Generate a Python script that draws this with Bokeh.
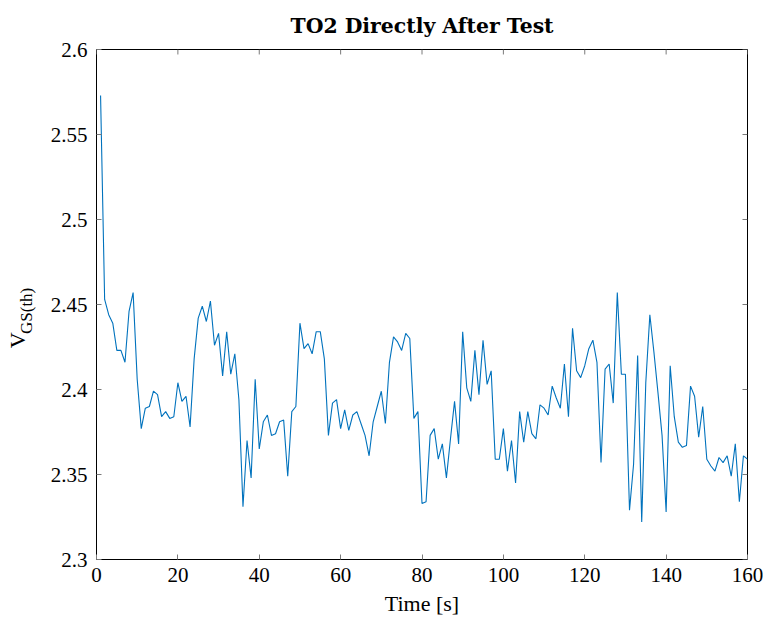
from bokeh.plotting import figure
from bokeh.models import FixedTicker, CustomJSTickFormatter, Range1d, LinearAxis
from bokeh.embed import file_html
from bokeh.resources import INLINE

# ---- data ----
time_s = list(range(1, 161))
vgs_th = [
    2.573, 2.453, 2.444, 2.439, 2.423, 2.423, 2.416, 2.446, 2.457, 2.406,
    2.377, 2.389, 2.390, 2.399, 2.397, 2.384, 2.387, 2.383, 2.384, 2.404,
    2.393, 2.396, 2.378, 2.418, 2.442, 2.449, 2.440, 2.452, 2.426, 2.433,
    2.408, 2.434, 2.409, 2.421, 2.394, 2.331, 2.370, 2.348, 2.406, 2.365,
    2.381, 2.385, 2.373, 2.374, 2.381, 2.382, 2.349, 2.387, 2.390, 2.439,
    2.424, 2.427, 2.421, 2.434, 2.434, 2.418, 2.373, 2.392, 2.394, 2.377,
    2.388, 2.376, 2.385, 2.387, 2.380, 2.373, 2.361, 2.381, 2.390, 2.399,
    2.380, 2.416, 2.431, 2.428, 2.423, 2.433, 2.430, 2.383, 2.387, 2.333,
    2.334, 2.373, 2.377, 2.359, 2.368, 2.348, 2.371, 2.393, 2.368, 2.434,
    2.401, 2.393, 2.423, 2.397, 2.429, 2.403, 2.411, 2.359, 2.359, 2.377,
    2.352, 2.370, 2.345, 2.387, 2.369, 2.387, 2.374, 2.371, 2.391, 2.389,
    2.385, 2.402, 2.395, 2.389, 2.415, 2.384, 2.436, 2.411, 2.407, 2.414,
    2.424, 2.429, 2.416, 2.357, 2.412, 2.415, 2.392, 2.457, 2.409, 2.409,
    2.329, 2.356, 2.420, 2.322, 2.404, 2.444, 2.422, 2.398, 2.373, 2.328,
    2.414, 2.384, 2.369, 2.366, 2.367, 2.402, 2.396, 2.372, 2.390, 2.359,
    2.355, 2.352, 2.360, 2.357, 2.361, 2.349, 2.368, 2.334, 2.361, 2.359,
]
x_ticks = [0, 20, 40, 60, 80, 100, 120, 140, 160]
y_ticks = [2.3, 2.35, 2.4, 2.45, 2.5, 2.55, 2.6]
title_text = "TO2 Directly After Test"
x_label = "Time [s]"
y_label_main = "V"
y_label_sub = "GS(th)"

FONT = "Liberation Serif"
X0, X1 = 0, 160
Y0, Y1 = 2.3, 2.6

W, H = 763, 618
ML, MR, MT, MB = 96, 16, 49, 57
FW = W - ML - MR
FH = H - MT - MB
TICK_PX = 5
TICK_COLOR = "#7a7a7a"
NBSP = "\u00a0"

p = figure(width=W, height=H, output_backend="svg", toolbar_location=None,
           x_range=Range1d(X0, X1), y_range=Range1d(Y0, Y1),
           min_border_left=ML, min_border_right=MR,
           min_border_top=MT, min_border_bottom=MB,
           title=title_text)
p.background_fill_color = "white"
p.border_fill_color = "white"
p.grid.visible = False
p.outline_line_color = "black"
p.outline_line_width = 1

p.title.text_font = "DejaVu Serif"
p.title.text_font_style = "bold"
p.title.text_font_size = "20.4px"
p.title.align = "center"
p.title.vertical_align = "top"
p.title.text_color = "black"
p.title.standoff = 20

fmt = CustomJSTickFormatter(code="return String(Number(tick.toFixed(2)));")

for ax, ticks in ((p.xaxis[0], x_ticks), (p.yaxis[0], y_ticks)):
    ax.ticker = FixedTicker(ticks=ticks)
    ax.formatter = fmt
    ax.axis_line_color = None
    ax.major_tick_in = TICK_PX
    ax.major_tick_out = 0
    ax.minor_tick_line_color = None
    ax.major_tick_line_color = TICK_COLOR
    ax.major_tick_line_width = 1
    ax.major_label_text_font = FONT
    ax.major_label_text_font_size = "21px"
    ax.major_label_text_color = "black"

p.xaxis[0].major_label_standoff = 8
p.yaxis[0].major_label_standoff = 9

p.xaxis[0].axis_label = x_label
p.xaxis[0].axis_label_text_font = FONT
p.xaxis[0].axis_label_text_font_size = "22px"
p.xaxis[0].axis_label_text_font_style = "normal"
p.xaxis[0].axis_label_text_color = "black"
p.xaxis[0].axis_label_standoff = 6

# y label V_GS(th): subscript on the main y axis, "V" on an outer tick-less axis
p.yaxis[0].axis_label = y_label_sub + NBSP * 3
p.yaxis[0].axis_label_text_font = FONT
p.yaxis[0].axis_label_text_font_size = "17px"
p.yaxis[0].axis_label_text_font_style = "normal"
p.yaxis[0].axis_label_text_color = "black"
p.yaxis[0].axis_label_standoff = 12
p.yaxis[0].axis_label_orientation = "vertical"

v_axis = LinearAxis(ticker=FixedTicker(ticks=[]), axis_line_color=None,
                    major_tick_line_color=None, minor_tick_line_color=None,
                    major_label_standoff=0, major_tick_in=0, major_tick_out=0,
                    axis_label=y_label_main + NBSP * 13,
                    axis_label_text_font=FONT, axis_label_text_font_size="22px",
                    axis_label_text_font_style="normal", axis_label_text_color="black",
                    axis_label_standoff=-16)
v_axis.axis_label_orientation = "vertical"
p.add_layout(v_axis, "left")

# inward ticks on the top and right edges of the box
dy = TICK_PX / FH * (Y1 - Y0)
dx = TICK_PX / FW * (X1 - X0)
p.segment(x0=x_ticks, y0=[Y1] * len(x_ticks), x1=x_ticks, y1=[Y1 - dy] * len(x_ticks),
          line_color=TICK_COLOR, line_width=1)
p.segment(x0=[X1] * len(y_ticks), y0=y_ticks, x1=[X1 - dx] * len(y_ticks), y1=y_ticks,
          line_color=TICK_COLOR, line_width=1)

p.line(time_s, vgs_th, line_color="#0072bd", line_width=1.1)

open("out.html", "w").write(file_html(p, INLINE))
